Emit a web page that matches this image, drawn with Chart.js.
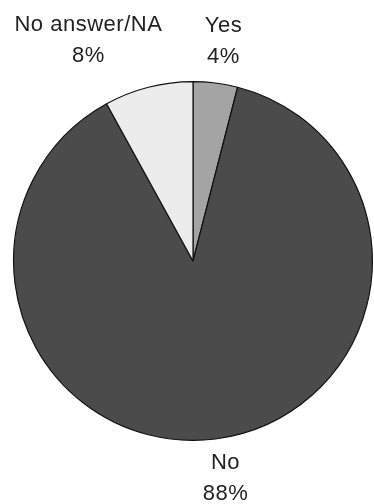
<!DOCTYPE html>
<html>
<head>
<meta charset="utf-8">
<script src="https://cdn.jsdelivr.net/npm/chart.js@4.4.1/dist/chart.umd.min.js"></script>
<style>
  html, body { margin: 0; padding: 0; background: #fff; }
  #wrap { width: 374px; height: 504px; position: relative; }
</style>
</head>
<body>
<div id="wrap"><canvas id="pie"></canvas></div>
<script>
    // answers, clockwise from 12 o'clock
    const answers = ['Yes', 'No', 'No answer/NA'];
    const shares = [4, 88, 8];
    const sliceColors = ['#a4a4a4', '#4b4b4b', '#ececec'];

    // label block nudge from the slice's outer mid point
    const labelNudge = [[8, -42], [10, 39], [-60, -47]];

    const outsideLabels = {
        id: 'outsideLabels',
        afterDatasetsDraw(chart) {
            const ctx = chart.ctx;
            const meta = chart.getDatasetMeta(0);
            ctx.save();
            ctx.font = '22px "Liberation Sans", Arial, sans-serif';
            ctx.fillStyle = '#222';
            ctx.textAlign = 'center';
            ctx.textBaseline = 'middle';
            if ('letterSpacing' in ctx) ctx.letterSpacing = '0.5px';
            meta.data.forEach((arc, i) => {
                const mid = (arc.startAngle + arc.endAngle) / 2;
                const x = arc.x + Math.cos(mid) * arc.outerRadius + labelNudge[i][0];
                const y = arc.y + Math.sin(mid) * arc.outerRadius + labelNudge[i][1];
                ctx.fillText(answers[i], x, y - 15);
                ctx.fillText(shares[i] + '%', x, y + 16);
            });
            ctx.restore();
        }
    };

    new Chart(document.getElementById('pie'), {
        type: 'pie',
        data: {
            labels: answers,
            datasets: [{
                data: shares,
                backgroundColor: sliceColors,
                borderColor: '#111',
                borderWidth: 1.2
            }]
        },
        options: {
            responsive: true,
            maintainAspectRatio: false,
            animation: false,
            layout: { padding: { left: 13, right: 1, top: 81, bottom: 63 } },
            plugins: {
                legend: { display: false },
                tooltip: { enabled: false }
            }
        },
        plugins: [outsideLabels]
    });
</script>
</body>
</html>
